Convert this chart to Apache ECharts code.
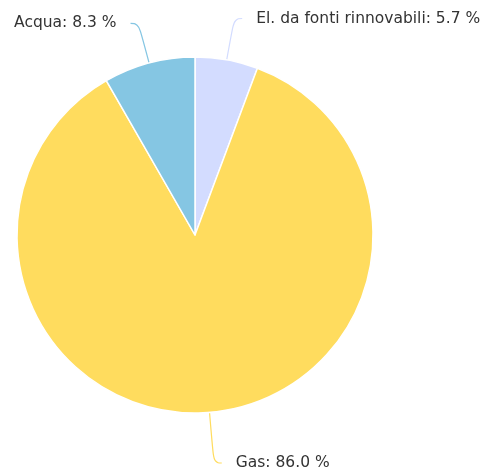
<!DOCTYPE html>
<html><head><meta charset="utf-8">
<script src="https://cdn.jsdelivr.net/npm/echarts@6/dist/echarts.min.js"></script>
<style>html,body{margin:0;padding:0;background:#fff}#c{width:490px;height:472px}</style>
</head><body><div id="c"></div>
<script>
const categories = ['El. da fonti rinnovabili', 'Gas', 'Acqua'];
const values = [5.7, 86.0, 8.3];
const colors = ['#d3dcff', '#ffdc5e', '#85c6e3'];
const lineLengths = [42, 52, 41];

const chart = echarts.init(document.getElementById('c'), null, {renderer: 'canvas'});
chart.setOption({
  animation: false,
  series: [{
    type: 'pie',
    center: [195, 235],
    radius: 178,
    startAngle: 90,
    clockwise: true,
    data: categories.map((n, i) => ({
      name: n, value: values[i],
      itemStyle: {color: colors[i]},
      labelLine: {length: lineLengths[i]}
    })),
    itemStyle: {borderColor: '#fff', borderWidth: 1.5},
    label: {
      formatter: p => p.name + ': ' + p.value.toFixed(1) + ' %',
      color: '#333', fontSize: 15.5, fontFamily: 'DejaVu Sans',
      distanceToLabelLine: 14, overflow: 'none'
    },
    labelLine: {show: true, length: 46, length2: 8, smooth: 0.5, lineStyle: {width: 1.2}}
  }]
});
</script></body></html>
